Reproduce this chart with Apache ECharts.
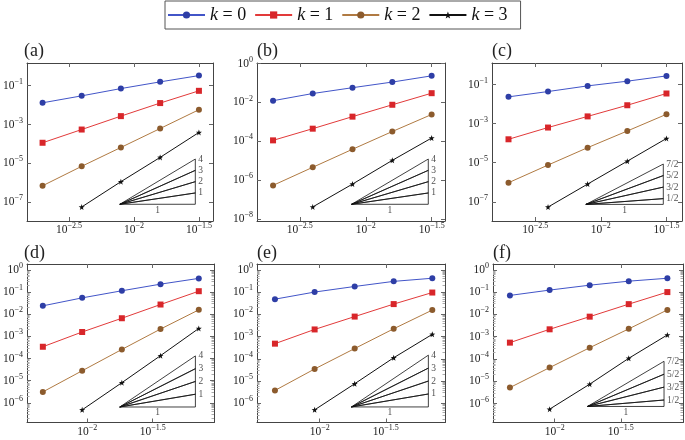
<!DOCTYPE html>
<html><head><meta charset="utf-8">
<script src="https://cdn.jsdelivr.net/npm/echarts@6/dist/echarts.min.js"></script>
<style>html,body{margin:0;padding:0;background:#fff}#c{width:685px;height:440px}</style>
</head><body><div id="c"></div>
<script>
// ---------- DATA ----------
// mesh sizes h (top row panels a-c, bottom row panels d-f)
const hTop = [0.00198, 0.00396, 0.00793, 0.0159, 0.0316];
const hBot = [0.00459, 0.00916, 0.0184, 0.0363, 0.0711];
const seriesNames = ['k = 0', 'k = 1', 'k = 2', 'k = 3'];

// errors, panel (a)
const errA0 = [0.0130, 0.0296, 0.0701, 0.155, 0.326];
const errA1 = [1.15e-4, 5.5e-4, 2.69e-3, 1.26e-2, 5.37e-2];
const errA2 = [7.1e-7, 7.1e-6, 6.6e-5, 6.2e-4, 5.75e-3];
const errA3 = [null, 5.75e-8, 1.15e-6, 2.04e-5, 3.9e-4];
// panel (b)
const errB0 = [0.0123, 0.0288, 0.0575, 0.112, 0.234];
const errB1 = [1.12e-4, 4.47e-4, 1.86e-3, 7.6e-3, 3.0e-2];
const errB2 = [5.4e-7, 4.6e-6, 3.9e-5, 3.2e-4, 2.4e-3];
const errB3 = [null, 4.2e-8, 6.3e-7, 1.05e-5, 1.48e-4];
// panel (c)
const errC0 = [0.0234, 0.0437, 0.0851, 0.148, 0.275];
const errC1 = [1.58e-4, 6.3e-4, 2.34e-3, 8.7e-3, 3.47e-2];
const errC2 = [9.5e-7, 7.6e-6, 5.9e-5, 4.2e-4, 3.0e-3];
const errC3 = [null, 5.4e-8, 8.1e-7, 1.2e-5, 1.74e-4];
// panel (d)
const errD0 = [0.024, 0.055, 0.115, 0.229, 0.417];
const errD1 = [3.4e-4, 1.58e-3, 6.6e-3, 2.75e-2, 0.11];
const errD2 = [3.1e-6, 2.8e-5, 2.57e-4, 2.14e-3, 1.58e-2];
const errD3 = [null, 4.8e-7, 8.1e-6, 1.35e-4, 2.29e-3];
// panel (e)
const errE0 = [0.0479, 0.100, 0.178, 0.302, 0.417];
const errE1 = [4.8e-4, 2.09e-3, 7.9e-3, 2.88e-2, 9.5e-2];
const errE2 = [3.8e-6, 3.5e-5, 2.9e-4, 2.24e-3, 1.55e-2];
const errE3 = [null, 5.1e-7, 7.6e-6, 1.12e-4, 1.26e-3];
// panel (f)
const errF0 = [0.0708, 0.123, 0.204, 0.309, 0.417];
const errF1 = [5.4e-4, 2.14e-3, 7.9e-3, 2.88e-2, 0.100];
const errF2 = [5.2e-6, 4.1e-5, 3.2e-4, 2.24e-3, 1.58e-2];
const errF3 = [null, 5.6e-7, 7.4e-6, 1.07e-4, 1.2e-3];

// tick exponents (labels shown as 10^e)
const xTicksTop = [-2.5, -2, -1.5];
const xTicksBot = [-2, -1.5];
const yTicksOdd = [-7, -5, -3, -1];
const yTicksEven = [-8, -6, -4, -2, 0];
const yTicksBot = [-6, -5, -4, -3, -2, -1, 0];

// convergence-rate triangles
const slopesInt = [1, 2, 3, 4];
const slopeLabelsInt = ['1', '2', '3', '4'];
const slopesHalf = [0.5, 1.5, 2.5, 3.5];
const slopeLabelsHalf = ['1/2', '3/2', '5/2', '7/2'];

// ---------- LAYOUT / STYLE ----------
const SERIF = '"Liberation Serif", "DejaVu Serif", serif';
const colors = {
  line: ['#4255c8', '#e23a3a', '#b07a42', '#111111'],
  mark: ['#2e3ea6', '#d8262a', '#8c5b2d', '#111111']
};
const STAR = 'path://M0,-10L2.35,-3.24L9.51,-3.09L3.8,1.24L5.88,8.09L0,4L-5.88,8.09L-3.8,1.24L-9.51,-3.09L-2.35,-3.24Z';
const symbols = ['circle', 'rect', 'circle', STAR];
const symbolSizes = [6, 6, 6, 6];

const panels = [
  {tag:'(a)', lab:[24,42], grid:{left:24, top:63, width:189, height:158}, xr:[-2.823,-1.392], yr:[-7.96,0.16],
   xt:xTicksTop, yt:yTicksOdd, minor:false, h:hTop, err:[errA0,errA1,errA2,errA3],
   tri:{x0:0.00778, x1:0.02965, y0:7.94e-8}, sl:slopesInt, sll:slopeLabelsInt},
  {tag:'(b)', lab:[257,42], grid:{left:257, top:63, width:188, height:158}, xr:[-2.825,-1.399], yr:[-8.1,0.03],
   xt:xTicksTop, yt:yTicksEven, minor:false, h:hTop, err:[errB0,errB1,errB2,errB3],
   tri:{x0:0.0078, x1:0.0298, y0:5.75e-8}, sl:slopesInt, sll:slopeLabelsInt},
  {tag:'(c)', lab:[492,42], grid:{left:492, top:63, width:190, height:158}, xr:[-2.829,-1.382], yr:[-7.98,0.10],
   xt:xTicksTop, yt:yTicksOdd, minor:false, h:hTop, err:[errC0,errC1,errC2,errC3],
   tri:{x0:0.00769, x1:0.0299, y0:7.4e-8}, sl:slopesHalf, sll:slopeLabelsHalf},
  {tag:'(d)', lab:[24,244], grid:{left:24, top:264, width:190, height:158.5}, xr:[-2.459,-1.032], yr:[-6.89,0.27],
   xt:xTicksBot, yt:yTicksBot, minor:true, h:hBot, err:[errD0,errD1,errD2,errD3],
   tri:{x0:0.01774, x1:0.067, y0:6.46e-7}, sl:slopesInt, sll:slopeLabelsInt},
  {tag:'(e)', lab:[257,244], grid:{left:257, top:264, width:188, height:158.5}, xr:[-2.474,-1.052], yr:[-6.86,0.26],
   xt:xTicksBot, yt:yTicksBot, minor:true, h:hBot, err:[errE0,errE1,errE2,errE3],
   tri:{x0:0.0174, x1:0.0664, y0:6.9e-7}, sl:slopesInt, sll:slopeLabelsInt},
  {tag:'(f)', lab:[493,244], grid:{left:493, top:264, width:190, height:158.5}, xr:[-2.466,-1.03], yr:[-6.85,0.26],
   xt:xTicksBot, yt:yTicksBot, minor:true, h:hBot, err:[errF0,errF1,errF2,errF3],
   tri:{x0:0.0177, x1:0.0671, y0:7.4e-7}, sl:slopesHalf, sll:slopeLabelsHalf}
];

const lg = Math.log10;
function supText(v) {
  const s = String(Math.round(v * 10) / 10);
  return s.replace('-', '\u2212');
}
const richTick = {
  b: {fontFamily: SERIF, fontSize: 11.5, color: '#222', lineHeight: 12, verticalAlign: 'bottom'},
  s: {fontFamily: SERIF, fontSize: 8, color: '#222', lineHeight: 8, padding: [0, 0, 6, 0], verticalAlign: 'bottom'}
};
const powFmt = v => '{b|10}{s|' + supText(v) + '}';
const AX = '#444';

const grid = [], xAxis = [], yAxis = [], series = [], title = [];

panels.forEach((p, gi) => {
  grid.push(Object.assign({containLabel: false}, p.grid));
  title.push({text: p.tag, left: p.lab[0], top: p.lab[1], padding: 0,
    textStyle: {fontFamily: SERIF, fontSize: 18, fontWeight: 'normal', color: '#222'}});

  const xi = xAxis.length;
  const baseX = {type: 'value', gridIndex: gi, min: p.xr[0], max: p.xr[1], splitLine: {show: false},
    axisLine: {show: true, onZero: false, lineStyle: {color: AX, width: 1}}};
  xAxis.push(Object.assign({}, baseX, {position: 'bottom',
    axisTick: {show: true, inside: true, length: 4, customValues: p.xt, lineStyle: {color: '#666'}},
    axisLabel: {show: true, customValues: p.xt, formatter: powFmt, rich: richTick, margin: 3}}));
  xAxis.push(Object.assign({}, baseX, {position: 'top',
    axisTick: {show: true, inside: true, length: 4, customValues: p.xt, lineStyle: {color: '#666'}},
    axisLabel: {show: false}}));

  const yi = yAxis.length;
  const baseY = {type: 'value', gridIndex: gi, min: p.yr[0], max: p.yr[1], splitLine: {show: false},
    axisLine: {show: true, onZero: false, lineStyle: {color: AX, width: 1}}};
  yAxis.push(Object.assign({}, baseY, {position: 'left',
    axisTick: {show: true, inside: true, length: 4, customValues: p.yt, lineStyle: {color: '#666'}},
    axisLabel: {show: true, customValues: p.yt, formatter: powFmt, rich: richTick, margin: 4}}));
  yAxis.push(Object.assign({}, baseY, {position: 'right',
    axisTick: {show: true, inside: true, length: 4, customValues: p.yt, lineStyle: {color: '#666'}},
    axisLabel: {show: false}}));
  if (p.minor) {
    const mv = [];
    for (let d = Math.floor(p.yr[0]); d < Math.ceil(p.yr[1]); d++) {
      for (let m = 2; m <= 9; m++) {
        const v = d + lg(m);
        if (v > p.yr[0] && v < p.yr[1]) mv.push(v);
      }
    }
    ['left', 'right'].forEach(pos => {
      yAxis.push(Object.assign({}, baseY, {position: pos, axisLine: {show: false},
        axisTick: {show: true, inside: true, length: 2.5, customValues: mv, lineStyle: {color: '#aaa'}},
        axisLabel: {show: false}}));
    });
  }

  // data series
  p.err.forEach((arr, k) => {
    const pts = [];
    arr.forEach((e, i) => { if (e !== null) pts.push([lg(p.h[i]), lg(e)]); });
    series.push({
      type: 'line', name: seriesNames[k], xAxisIndex: xi, yAxisIndex: yi, data: pts,
      symbol: symbols[k], symbolSize: symbolSizes[k], showSymbol: true,
      lineStyle: {color: colors.line[k], width: 1},
      itemStyle: {color: colors.mark[k], borderWidth: 0},
      z: 5
    });
  });

  // slope triangle
  const lx0 = lg(p.tri.x0), lx1 = lg(p.tri.x1), ly0 = lg(p.tri.y0), w = lx1 - lx0;
  const tops = p.sl.map(s => [lx1, ly0 + s * w]);
  const path = [[lx0, ly0], [lx1, ly0], tops[tops.length - 1], [lx0, ly0]];
  for (let i = 0; i < tops.length - 1; i++) { path.push(tops[i]); path.push([lx0, ly0]); }
  series.push({type: 'line', xAxisIndex: xi, yAxisIndex: yi, data: path, symbol: 'none',
    lineStyle: {color: '#111', width: 0.8}, silent: true, z: 3});
  const labs = tops.map((t, i) => ({value: t, name: p.sll[i]}));
  series.push({type: 'scatter', xAxisIndex: xi, yAxisIndex: yi, symbolSize: 0, silent: true, z: 4,
    data: labs,
    label: {show: true, position: 'right', distance: 3, formatter: '{b}',
      fontFamily: SERIF, fontSize: 9.5, color: '#222'}});
  series.push({type: 'scatter', xAxisIndex: xi, yAxisIndex: yi, symbolSize: 0, silent: true, z: 4,
    data: [{value: [(lx0 + lx1) / 2, ly0], name: '1'}],
    label: {show: true, position: 'bottom', distance: 1, formatter: '{b}',
      fontFamily: SERIF, fontSize: 9.5, color: '#222'}});
});

const chart = echarts.init(document.getElementById('c'), null, {renderer: 'canvas'});
chart.setOption({
  animation: false,
  backgroundColor: '#fff',
  title: title,
  legend: {
    data: seriesNames, left: 165, top: 1, orient: 'horizontal', selectedMode: false,
    padding: [5, 13, 5, 2], itemGap: 8, itemWidth: 37, itemHeight: 9,
    borderColor: '#555', borderWidth: 1,
    textStyle: {fontFamily: SERIF, fontSize: 18, color: '#111',
      rich: {k: {fontFamily: SERIF, fontSize: 18, fontStyle: 'italic', color: '#111'}}},
    formatter: n => '{k|k} = ' + n.slice(-1)
  },
  grid: grid, xAxis: xAxis, yAxis: yAxis, series: series
});
</script></body></html>
